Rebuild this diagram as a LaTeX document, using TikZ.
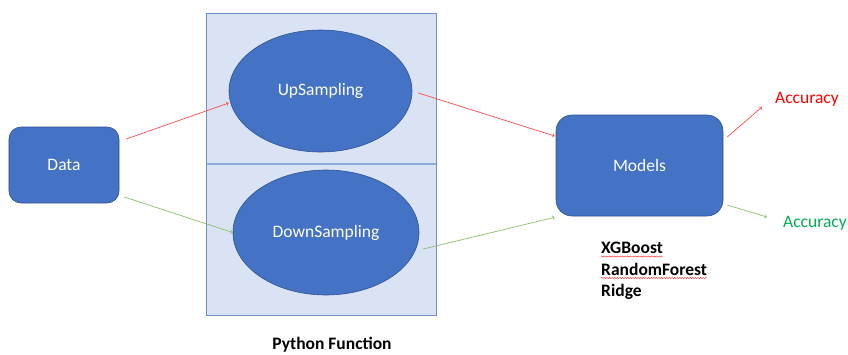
\documentclass[tikz,border=0pt]{standalone}
\usepackage{fontspec}
\setmainfont{Carlito}
\usetikzlibrary{shapes.geometric,decorations.pathmorphing}
\definecolor{boxblue}{HTML}{4472C4}
\definecolor{boxline}{HTML}{2F528F}
\definecolor{panelfill}{HTML}{DAE3F3}
\definecolor{panelline}{HTML}{6F8FCB}
\definecolor{panelmid}{HTML}{8FAADC}
\definecolor{upred}{HTML}{FF4B4B}
\definecolor{downgreen}{HTML}{8CC06A}
\definecolor{accgreen}{HTML}{00B050}
\begin{document}
\begin{tikzpicture}[x=1bp,y=-1bp]

    \tikzset{
      txt/.style={
        font=\fontsize{17.5bp}{21bp}\selectfont,
        inner sep=0pt,
      },
      stepbox/.style={
        txt,
        rectangle,
        fill=boxblue,
        draw=boxline,
        line width=0.6bp,
        text=white,
      },
      sampler/.style={
        txt,
        ellipse,
        fill=boxblue,
        draw=boxline,
        line width=0.6bp,
        text=white,
      },
      uparrow/.style={->,draw=upred,line width=0.7bp},
      downarrow/.style={->,draw=downgreen,line width=0.7bp},
      squiggle/.style={red!80,line width=0.45bp,
        decorate,decoration={snake,segment length=2.6bp,amplitude=0.6bp}},
    }
    \useasboundingbox (0,0) rectangle (848,354);

    % python function panel
    \fill[panelfill] (206,13) rectangle (436,315);
    \draw[panelmid,line width=1.2bp] (206,164) -- (436,164);
    \draw[panelline,line width=1bp] (206,13) rectangle (436,315);

	\node[stepbox,rounded corners=12bp,minimum width=110bp,minimum height=76bp] (data) at (64,165) {Data};
	\node[sampler,minimum width=183bp,minimum height=122bp] (up) at (320.5,91) {UpSampling};
	\node[sampler,minimum width=186bp,minimum height=125bp] (down) at (326,232.5) {DownSampling};
	\node[stepbox,rounded corners=16bp,minimum width=167bp,minimum height=101bp] (models) at (639.5,165.5) {Models};

	\node[txt,anchor=base west,text=red] (accRed) at (775,103.5) {Accuracy};
	\node[txt,anchor=base west,text=accgreen] (accGreen) at (783,227.5) {Accuracy};
	\coordinate (redTip) at (762,107);
	\coordinate (greenTip) at (767,217);

	\node[txt,anchor=base west,font=\fontsize{17.5bp}{21bp}\selectfont\bfseries] (xgb) at (601,253.5) {XGBoost};
	\node[txt,anchor=base west,font=\fontsize{17.5bp}{21bp}\selectfont\bfseries] (rf) at (601,275) {RandomForest};
	\node[txt,anchor=base west,font=\fontsize{17.5bp}{21bp}\selectfont\bfseries] (ridge) at (601,296.5) {Ridge};
	\node[txt,anchor=base,font=\fontsize{17.5bp}{21bp}\selectfont\bfseries] (python) at (332,349.5) {Python Function};

	\draw[squiggle] ([yshift=-3bp]xgb.base west) -- ([yshift=-3bp]xgb.base east);
	\draw[squiggle] ([yshift=-3bp]rf.base west) -- ([yshift=-3bp]rf.base east);

	\draw[uparrow] ([xshift=7bp,yshift=26bp]data.east) -- ([yshift=-12bp]up.west);
	\draw[downarrow] ([xshift=5bp,yshift=-32bp]data.east) -- (down.west);
	\draw[uparrow] ([xshift=6bp,yshift=-2bp]up.east) -- ([xshift=-1bp,yshift=29.5bp]models.west);
	\draw[downarrow] ([xshift=4bp,yshift=-16.5bp]down.east) -- ([xshift=-1bp,yshift=-1bp]models.south west);
	\draw[uparrow] ([xshift=4bp,yshift=28.5bp]models.east) -- (redTip);
	\draw[downarrow] ([xshift=4bp,yshift=-39.5bp]models.east) -- (greenTip);

\end{tikzpicture}
\end{document}
